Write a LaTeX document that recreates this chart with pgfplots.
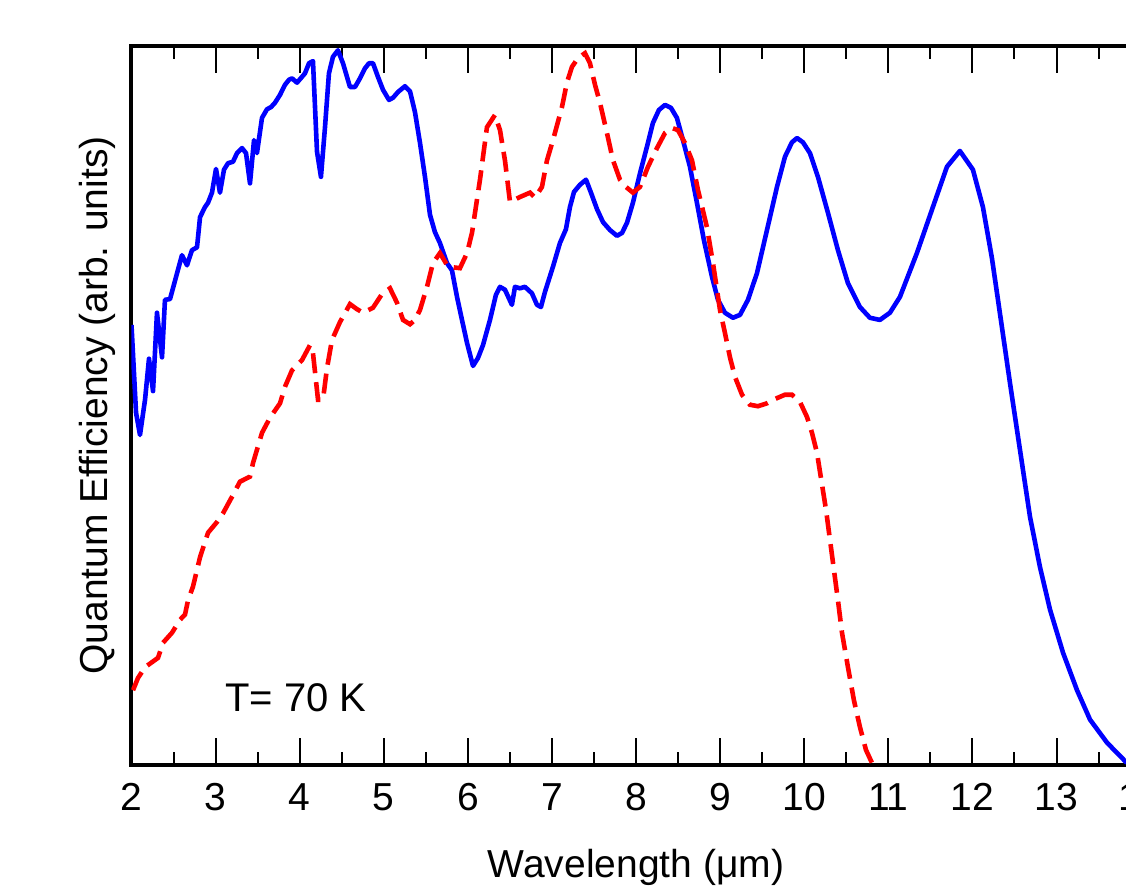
\documentclass[border=0pt]{standalone}
\usepackage{pgfplots}
\pgfplotsset{compat=1.18}
\usepackage{fontspec}
\setmainfont{Liberation Sans}

\definecolor{qeblue}{RGB}{0,0,255}
\definecolor{qered}{RGB}{255,0,0}

\begin{document}
\begin{tikzpicture}
  \begin{axis}[
      at={(0,0)}, anchor=south west,
      scale only axis,
      width=504.55pt, height=359.5pt,
      xmin=2, xmax=14, ymin=0, ymax=100,
      xtick={2,3,...,14}, minor x tick num=1,
      ytick=\empty,
      tick align=inside,
      major tick length=13.5pt, minor tick length=6.5pt,
      tick style={black, line width=1pt},
      axis line style={black, line width=2pt},
      /pgf/number format/assume math mode=true,
      xticklabel style={font=\fontsize{19.5}{20}\selectfont, anchor=base, yshift=-23pt},
      every axis x label/.style={at={(axis description cs:0.5,0)}, anchor=base, yshift=-56.5pt},
      every axis y label/.style={at={(axis description cs:-0.0233,0.5)}, rotate=90, anchor=base},
      label style={font=\fontsize{19.5}{20}\selectfont},
      xlabel={Wavelength (μm)},
      ylabel={Quantum Efficiency (arb. units)},
      clip=true,
    ]
    % photovoltaic/solid curve
    \addplot[qeblue, line width=2.3pt, line join=round] coordinates {
      (2.000,61.2) (2.054,49.0) (2.101,45.9) (2.161,50.8) (2.208,56.5) (2.256,52.0)
      (2.303,62.9) (2.363,56.7) (2.398,64.7) (2.458,64.8) (2.600,70.9) (2.660,69.5)
      (2.719,71.6) (2.779,72.0) (2.815,76.2) (2.874,77.6) (2.910,78.2) (2.957,79.6)
      (3.005,82.9) (3.052,79.6) (3.100,82.8) (3.148,83.7) (3.207,83.9) (3.255,85.1)
      (3.314,85.8) (3.362,85.1) (3.409,80.9) (3.457,86.9) (3.492,85.1) (3.552,90.0)
      (3.611,91.2) (3.659,91.5) (3.706,92.1) (3.766,93.2) (3.825,94.6) (3.873,95.3)
      (3.909,95.5) (3.968,94.9) (4.027,95.7) (4.063,96.2) (4.111,97.6) (4.158,97.9)
      (4.206,85.3) (4.253,81.8) (4.301,88.7) (4.348,96.2) (4.396,98.5) (4.455,99.4)
      (4.515,97.6) (4.598,94.3) (4.658,94.3) (4.717,95.5) (4.777,96.9) (4.824,97.6)
      (4.872,97.6) (4.931,95.7) (4.991,93.9) (5.062,92.5) (5.110,92.8) (5.169,93.6)
      (5.252,94.4) (5.312,93.7) (5.371,90.8) (5.431,86.5) (5.490,81.8) (5.550,76.5)
      (5.609,74.1) (5.668,72.6) (5.752,69.8) (5.811,68.8) (5.871,65.1) (5.930,61.9)
      (5.990,58.7) (6.061,55.5) (6.120,56.6) (6.180,58.4) (6.263,61.9) (6.334,65.4)
      (6.382,66.5) (6.441,66.1) (6.524,64.0) (6.560,66.5) (6.620,66.3) (6.679,66.5)
      (6.762,65.6) (6.822,64.0) (6.869,63.7) (6.917,65.8) (7.012,69.3) (7.095,72.6)
      (7.166,74.5) (7.214,77.6) (7.262,79.7) (7.333,80.7) (7.405,81.4) (7.464,79.6)
      (7.536,77.3) (7.607,75.5) (7.690,74.4) (7.773,73.6) (7.833,74.0) (7.892,75.4)
      (7.963,78.2) (8.047,82.3) (8.130,86.0) (8.201,89.3) (8.272,91.1) (8.344,91.8)
      (8.415,91.4) (8.486,90.0) (8.558,86.9) (8.641,83.2) (8.724,78.2) (8.807,73.0)
      (8.903,67.9) (8.974,64.7) (9.057,62.9) (9.152,62.2) (9.236,62.6) (9.331,64.7)
      (9.438,68.4) (9.557,74.4) (9.676,80.4) (9.771,84.6) (9.854,86.6) (9.914,87.2)
      (9.985,86.6) (10.068,85.1) (10.163,81.8) (10.282,76.8) (10.401,71.6) (10.520,67.0)
      (10.662,63.7) (10.781,62.2) (10.900,61.9) (11.019,62.9) (11.138,65.1) (11.340,71.2)
      (11.530,77.6) (11.697,83.2) (11.851,85.4) (12.006,82.8) (12.125,77.6) (12.232,70.5)
      (12.304,64.7) (12.447,53.1) (12.566,43.8) (12.685,34.5) (12.804,27.5) (12.923,21.6)
      (13.078,15.6) (13.244,10.4) (13.399,6.3) (13.601,3.1) (13.827,0.4) (13.950,0.1)
    };
    % dashed curve
    \addplot[qered, line width=2.3pt, dash pattern=on 10pt off 4.5pt] coordinates {
      (2.018,10.4) (2.077,12.1) (2.161,13.6) (2.244,14.3) (2.315,14.9) (2.375,17.0)
      (2.482,18.4) (2.577,20.2) (2.636,20.9) (2.672,22.9) (2.731,24.8) (2.815,28.9)
      (2.910,32.3) (3.017,33.8) (3.088,35.0) (3.195,37.3) (3.290,39.4) (3.409,40.1)
      (3.445,42.0) (3.552,46.2) (3.647,48.3) (3.766,50.3) (3.825,52.6) (3.909,54.9)
      (4.027,56.3) (4.123,58.4) (4.158,57.3) (4.218,50.8) (4.277,50.8) (4.325,55.2)
      (4.384,59.1) (4.479,61.6) (4.598,64.1) (4.681,63.4) (4.753,62.9) (4.872,63.6)
      (4.979,65.5) (5.074,66.3) (5.157,64.3) (5.229,61.9) (5.312,61.3) (5.371,61.9)
      (5.431,63.3) (5.514,66.5) (5.585,69.8) (5.668,71.2) (5.764,69.3) (5.906,69.1)
      (5.990,71.2) (6.049,74.0) (6.085,76.8) (6.144,81.4) (6.227,88.7) (6.322,90.4)
      (6.382,88.3) (6.441,84.1) (6.501,78.3) (6.620,79.0) (6.739,79.6) (6.798,78.9)
      (6.881,80.4) (6.941,84.1) (7.012,86.9) (7.119,91.5) (7.178,94.9) (7.238,97.1)
      (7.309,98.3) (7.393,99.0) (7.452,97.6) (7.512,94.6) (7.571,92.1) (7.654,87.9)
      (7.726,84.1) (7.809,81.4) (7.880,80.4) (7.963,79.6) (8.047,80.4) (8.142,83.2)
      (8.249,85.8) (8.344,87.9) (8.427,88.6) (8.498,88.3) (8.582,86.5) (8.665,84.1)
      (8.736,80.0) (8.843,74.8) (8.915,69.8) (8.998,63.3) (9.057,60.1) (9.117,56.7)
      (9.176,54.0) (9.260,51.5) (9.355,50.1) (9.450,49.9) (9.557,50.3) (9.652,50.9)
      (9.771,51.5) (9.854,51.5) (9.949,50.5) (10.033,48.4) (10.092,46.2) (10.152,43.4)
      (10.187,40.8) (10.259,35.5) (10.330,29.2) (10.401,22.9) (10.449,18.4) (10.520,13.6)
      (10.591,9.0) (10.662,5.3) (10.734,2.1) (10.829,-0.3)
    };
    \node[anchor=base west, font=\fontsize{20}{22}\selectfont] at (axis cs:3.03,7.4) {T= 70 K};
  \end{axis}
  \pgfresetboundingbox
  \useasboundingbox (-65.75pt,-60.5pt) rectangle (497.25pt,382.5pt);
\end{tikzpicture}
\end{document}
